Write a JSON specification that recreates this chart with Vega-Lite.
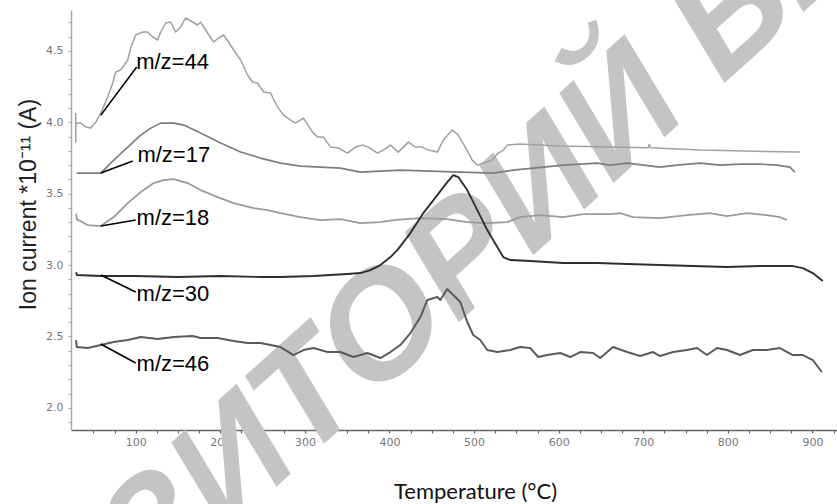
{
  "$schema": "https://vega.github.io/schema/vega-lite/v6.json",
  "width": 766,
  "height": 420,
  "autosize": "none",
  "padding": {"left": 71, "top": 10, "right": 0, "bottom": 74},
  "background": "white",
  "config": {"view": {"stroke": null}, "axis": {"grid": false}},
  "resolve": {"axis": {"x": "independent", "y": "independent"}},
  "datasets": {
    "series": [
      {"s":"44","T":29.0,"v":4.064},{"s":"44","T":29.1,"v":3.861},{"s":"44","T":29.2,"v":3.994},{"s":"44","T":35.1,"v":3.994},{"s":"44","T":41.0,"v":3.966},{"s":"44","T":46.9,"v":3.959},{"s":"44","T":52.8,"v":4.001},{"s":"44","T":58.7,"v":4.064},{"s":"44","T":66.9,"v":4.176},{"s":"44","T":72.8,"v":4.275},{"s":"44","T":76.4,"v":4.352},{"s":"44","T":82.3,"v":4.366},{"s":"44","T":90.6,"v":4.436},{"s":"44","T":94.1,"v":4.52},{"s":"44","T":100,"v":4.611},{"s":"44","T":108.3,"v":4.632},{"s":"44","T":114.2,"v":4.632},{"s":"44","T":120.1,"v":4.597},{"s":"44","T":126,"v":4.576},{"s":"44","T":129.5,"v":4.632},{"s":"44","T":135.4,"v":4.695},{"s":"44","T":141.3,"v":4.702},{"s":"44","T":147.2,"v":4.632},{"s":"44","T":153.1,"v":4.667},{"s":"44","T":159,"v":4.73},{"s":"44","T":167.3,"v":4.702},{"s":"44","T":173.2,"v":4.681},{"s":"44","T":176.7,"v":4.702},{"s":"44","T":185,"v":4.625},{"s":"44","T":192.1,"v":4.562},{"s":"44","T":198,"v":4.59},{"s":"44","T":203.9,"v":4.611},{"s":"44","T":209.8,"v":4.562},{"s":"44","T":215.7,"v":4.506},{"s":"44","T":224,"v":4.436},{"s":"44","T":232.2,"v":4.331},{"s":"44","T":238.1,"v":4.282},{"s":"44","T":244,"v":4.275},{"s":"44","T":251.1,"v":4.212},{"s":"44","T":259.4,"v":4.205},{"s":"44","T":267.6,"v":4.106},{"s":"44","T":274.7,"v":4.05},{"s":"44","T":283,"v":4.015},{"s":"44","T":288.9,"v":3.994},{"s":"44","T":298.3,"v":4.029},{"s":"44","T":309,"v":3.931},{"s":"44","T":314.9,"v":3.896},{"s":"44","T":321.9,"v":3.896},{"s":"44","T":330.2,"v":3.826},{"s":"44","T":339.7,"v":3.819},{"s":"44","T":350.3,"v":3.784},{"s":"44","T":359.7,"v":3.826},{"s":"44","T":368,"v":3.84},{"s":"44","T":375,"v":3.826},{"s":"44","T":385.7,"v":3.784},{"s":"44","T":392.8,"v":3.805},{"s":"44","T":401.1,"v":3.84},{"s":"44","T":410.4,"v":3.791},{"s":"44","T":422.3,"v":3.861},{"s":"44","T":430.6,"v":3.826},{"s":"44","T":438.8,"v":3.826},{"s":"44","T":445.9,"v":3.805},{"s":"44","T":456.5,"v":3.791},{"s":"44","T":463.6,"v":3.875},{"s":"44","T":474.2,"v":3.945},{"s":"44","T":481.3,"v":3.91},{"s":"44","T":489.6,"v":3.826},{"s":"44","T":497.8,"v":3.735},{"s":"44","T":503.8,"v":3.7},{"s":"44","T":510.8,"v":3.714},{"s":"44","T":521.5,"v":3.735},{"s":"44","T":528.6,"v":3.784},{"s":"44","T":534.5,"v":3.805},{"s":"44","T":539.2,"v":3.84},{"s":"44","T":554.5,"v":3.847},{"s":"44","T":601.8,"v":3.833},{"s":"44","T":660.8,"v":3.826},{"s":"44","T":706,"v":3.822},{"s":"44","T":707,"v":3.845},{"s":"44","T":708.5,"v":3.822},{"s":"44","T":767,"v":3.805},{"s":"44","T":820,"v":3.798},{"s":"44","T":885.1,"v":3.791},
      {"s":"17","T":30.3,"v":3.644},{"s":"17","T":58.7,"v":3.644},{"s":"17","T":74,"v":3.735},{"s":"17","T":90.6,"v":3.826},{"s":"17","T":105.9,"v":3.91},{"s":"17","T":117.7,"v":3.959},{"s":"17","T":129.5,"v":3.994},{"s":"17","T":144.9,"v":3.994},{"s":"17","T":156.7,"v":3.98},{"s":"17","T":176.7,"v":3.924},{"s":"17","T":200.4,"v":3.854},{"s":"17","T":224,"v":3.791},{"s":"17","T":247.6,"v":3.749},{"s":"17","T":271.2,"v":3.714},{"s":"17","T":294.8,"v":3.693},{"s":"17","T":318.4,"v":3.686},{"s":"17","T":342,"v":3.679},{"s":"17","T":365.6,"v":3.651},{"s":"17","T":389.2,"v":3.658},{"s":"17","T":412.8,"v":3.665},{"s":"17","T":448.3,"v":3.658},{"s":"17","T":483.7,"v":3.651},{"s":"17","T":522.6,"v":3.644},{"s":"17","T":546.3,"v":3.665},{"s":"17","T":569.9,"v":3.679},{"s":"17","T":605.3,"v":3.7},{"s":"17","T":645.4,"v":3.714},{"s":"17","T":660.8,"v":3.7},{"s":"17","T":680.9,"v":3.714},{"s":"17","T":719.8,"v":3.686},{"s":"17","T":739.9,"v":3.7},{"s":"17","T":767,"v":3.714},{"s":"17","T":790.7,"v":3.7},{"s":"17","T":814.3,"v":3.707},{"s":"17","T":837.9,"v":3.707},{"s":"17","T":857.9,"v":3.7},{"s":"17","T":873.3,"v":3.686},{"s":"17","T":879.2,"v":3.651},
      {"s":"18","T":29.5,"v":3.36},{"s":"18","T":30.5,"v":3.32},{"s":"18","T":43.3,"v":3.28},{"s":"18","T":58.7,"v":3.273},{"s":"18","T":74,"v":3.336},{"s":"18","T":90.6,"v":3.434},{"s":"18","T":105.9,"v":3.511},{"s":"18","T":121.3,"v":3.574},{"s":"18","T":133.1,"v":3.595},{"s":"18","T":144.9,"v":3.602},{"s":"18","T":161.4,"v":3.574},{"s":"18","T":176.7,"v":3.525},{"s":"18","T":196.8,"v":3.476},{"s":"18","T":215.7,"v":3.434},{"s":"18","T":239.3,"v":3.399},{"s":"18","T":255.8,"v":3.385},{"s":"18","T":271.2,"v":3.364},{"s":"18","T":294.8,"v":3.336},{"s":"18","T":318.4,"v":3.315},{"s":"18","T":342,"v":3.322},{"s":"18","T":365.6,"v":3.294},{"s":"18","T":389.2,"v":3.301},{"s":"18","T":404.6,"v":3.315},{"s":"18","T":436.5,"v":3.329},{"s":"18","T":468.3,"v":3.322},{"s":"18","T":491.9,"v":3.301},{"s":"18","T":515.6,"v":3.294},{"s":"18","T":539.2,"v":3.301},{"s":"18","T":554.5,"v":3.336},{"s":"18","T":578.1,"v":3.35},{"s":"18","T":605.3,"v":3.336},{"s":"18","T":629,"v":3.357},{"s":"18","T":660.8,"v":3.357},{"s":"18","T":672.6,"v":3.364},{"s":"18","T":687.9,"v":3.336},{"s":"18","T":719.8,"v":3.329},{"s":"18","T":751.7,"v":3.35},{"s":"18","T":778.8,"v":3.364},{"s":"18","T":798.9,"v":3.343},{"s":"18","T":822.5,"v":3.364},{"s":"18","T":846.1,"v":3.35},{"s":"18","T":861.5,"v":3.336},{"s":"18","T":869.7,"v":3.315},
      {"s":"30","T":29.5,"v":2.95},{"s":"30","T":30.5,"v":2.93},{"s":"30","T":58.7,"v":2.923},{"s":"30","T":100,"v":2.923},{"s":"30","T":150,"v":2.916},{"s":"30","T":200,"v":2.923},{"s":"30","T":250,"v":2.916},{"s":"30","T":271.2,"v":2.916},{"s":"30","T":310.1,"v":2.923},{"s":"30","T":350.3,"v":2.937},{"s":"30","T":365.6,"v":2.944},{"s":"30","T":377.4,"v":2.965},{"s":"30","T":389.2,"v":3.0},{"s":"30","T":401.1,"v":3.056},{"s":"30","T":409.3,"v":3.105},{"s":"30","T":424.7,"v":3.224},{"s":"30","T":440,"v":3.364},{"s":"30","T":456.5,"v":3.49},{"s":"30","T":468.3,"v":3.581},{"s":"30","T":475.4,"v":3.63},{"s":"30","T":481.3,"v":3.616},{"s":"30","T":491.9,"v":3.525},{"s":"30","T":503.8,"v":3.385},{"s":"30","T":515.6,"v":3.245},{"s":"30","T":527.4,"v":3.126},{"s":"30","T":534.5,"v":3.056},{"s":"30","T":542.7,"v":3.035},{"s":"30","T":566.3,"v":3.028},{"s":"30","T":605.3,"v":3.014},{"s":"30","T":645.4,"v":3.014},{"s":"30","T":680.9,"v":3.007},{"s":"30","T":719.8,"v":3.0},{"s":"30","T":758.8,"v":2.993},{"s":"30","T":798.9,"v":2.986},{"s":"30","T":837.9,"v":2.993},{"s":"30","T":876.8,"v":2.993},{"s":"30","T":888.6,"v":2.979},{"s":"30","T":900.4,"v":2.944},{"s":"30","T":912.2,"v":2.888},
      {"s":"46","T":29.5,"v":2.475},{"s":"46","T":30.3,"v":2.426},{"s":"46","T":43.3,"v":2.419},{"s":"46","T":58.7,"v":2.44},{"s":"46","T":74,"v":2.461},{"s":"46","T":90.6,"v":2.475},{"s":"46","T":105.9,"v":2.496},{"s":"46","T":126,"v":2.482},{"s":"46","T":144.9,"v":2.496},{"s":"46","T":167.3,"v":2.503},{"s":"46","T":176.7,"v":2.489},{"s":"46","T":196.8,"v":2.489},{"s":"46","T":215.7,"v":2.468},{"s":"46","T":232.2,"v":2.454},{"s":"46","T":247.6,"v":2.454},{"s":"46","T":271.2,"v":2.426},{"s":"46","T":286.5,"v":2.37},{"s":"46","T":298.3,"v":2.405},{"s":"46","T":310.1,"v":2.419},{"s":"46","T":326.7,"v":2.391},{"s":"46","T":342,"v":2.391},{"s":"46","T":357.4,"v":2.356},{"s":"46","T":373.9,"v":2.384},{"s":"46","T":389.2,"v":2.349},{"s":"46","T":401.1,"v":2.391},{"s":"46","T":412.8,"v":2.44},{"s":"46","T":424.7,"v":2.524},{"s":"46","T":436.5,"v":2.636},{"s":"46","T":444.7,"v":2.755},{"s":"46","T":456.5,"v":2.776},{"s":"46","T":460.1,"v":2.755},{"s":"46","T":468.3,"v":2.832},{"s":"46","T":475.4,"v":2.79},{"s":"46","T":483.7,"v":2.741},{"s":"46","T":491.9,"v":2.601},{"s":"46","T":499,"v":2.51},{"s":"46","T":507.3,"v":2.475},{"s":"46","T":515.6,"v":2.405},{"s":"46","T":527.4,"v":2.391},{"s":"46","T":542.7,"v":2.405},{"s":"46","T":554.5,"v":2.426},{"s":"46","T":566.3,"v":2.419},{"s":"46","T":575.8,"v":2.356},{"s":"46","T":586.4,"v":2.37},{"s":"46","T":601.8,"v":2.384},{"s":"46","T":613.6,"v":2.356},{"s":"46","T":625.4,"v":2.391},{"s":"46","T":640.7,"v":2.384},{"s":"46","T":649,"v":2.349},{"s":"46","T":664.3,"v":2.426},{"s":"46","T":680.9,"v":2.391},{"s":"46","T":696.2,"v":2.363},{"s":"46","T":711.6,"v":2.391},{"s":"46","T":719.8,"v":2.363},{"s":"46","T":735.2,"v":2.391},{"s":"46","T":751.7,"v":2.405},{"s":"46","T":763.5,"v":2.419},{"s":"46","T":775.3,"v":2.37},{"s":"46","T":787.1,"v":2.419},{"s":"46","T":798.9,"v":2.405},{"s":"46","T":814.3,"v":2.37},{"s":"46","T":829.6,"v":2.405},{"s":"46","T":846.1,"v":2.405},{"s":"46","T":861.5,"v":2.419},{"s":"46","T":876.8,"v":2.37},{"s":"46","T":888.6,"v":2.37},{"s":"46","T":900.4,"v":2.335},{"s":"46","T":911,"v":2.251}
    ],
    "leaders": [
      {"s":"44","T1":58.7,"v1":4.05,"T2":101.2,"v2":4.387},
      {"s":"17","T1":58.7,"v1":3.644,"T2":96.5,"v2":3.728},
      {"s":"18","T1":58.7,"v1":3.273,"T2":100,"v2":3.315},
      {"s":"30","T1":58.7,"v1":2.93,"T2":100,"v2":2.811},
      {"s":"46","T1":58.7,"v1":2.447,"T2":100,"v2":2.314}
    ],
    "labels": [
      {"label":"m/z=44","T":100.5,"v":4.42},
      {"label":"m/z=17","T":102,"v":3.77},
      {"label":"m/z=18","T":101,"v":3.33},
      {"label":"m/z=30","T":101,"v":2.8},
      {"label":"m/z=46","T":101,"v":2.31}
    ],
    "watermark": [
      {"w":"РЕПОЗИТОРИЙ БГУ","T":366,"v":2.405}
    ]
  },
  "layer": [
    {
      "data": {"name": "watermark"},
      "mark": {"type": "text", "angle": -42, "fontSize": 150, "fontWeight": "bold", "fontStyle": "italic", "font": "Liberation Sans", "color": "#c4c4c4", "align": "center", "baseline": "middle"},
      "encoding": {
        "x": {"field": "T", "type": "quantitative", "scale": {"domain": [23.5, 929], "nice": false, "zero": false},
          "axis": {"orient": "bottom", "title": "Temperature (°C)", "values": [100,200,300,400,500,600,700,800,900],
            "labelFont": "DejaVu Sans", "labelFontSize": 11, "labelColor": "#777", "labelPadding": 3,
            "domainColor": "#666", "domainWidth": 1.5, "tickColor": "#666", "tickSize": 3, "tickWidth": 1.2,
            "titleFont": "Lato", "titleFontSize": 22, "titleFontWeight": "normal", "titleColor": "#111",
            "titleX": 404, "titleY": 68, "titleBaseline": "alphabetic", "titleAnchor": "middle", "titleAlign": "center"}},
        "y": {"field": "v", "type": "quantitative", "scale": {"domain": [1.845, 4.786], "nice": false, "zero": false},
          "axis": {"orient": "left", "title": "Ion current *10⁻¹¹ (A)", "values": [2, 2.5, 3, 3.5, 4, 4.5], "format": ".1f",
            "labelFont": "DejaVu Sans", "labelFontSize": 11, "labelColor": "#777", "labelPadding": 5,
            "domainColor": "#aaa", "domainWidth": 1.5, "tickColor": "#aaa", "tickSize": 3, "tickWidth": 1.2,
            "titleFont": "Liberation Sans", "titleFontSize": 23, "titleFontWeight": "normal", "titleColor": "#222",
            "titleX": -43, "titleY": 194, "titleAngle": -90, "titleBaseline": "middle", "titleAlign": "center"}},
        "text": {"field": "w"}
      }
    },
    {
      "data": {"name": "series"},
      "mark": {"type": "line", "strokeJoin": "round"},
      "encoding": {
        "x": {"field": "T", "type": "quantitative",
          "axis": {"orient": "bottom", "title": null, "labels": false, "domain": false, "values": [50,75,125,150,175,225,250,275,325,350,375,425,450,475,525,550,575,625,650,675,725,750,775,825,850,875,925], "tickColor": "#666", "tickSize": 3, "tickWidth": 1.2}},
        "y": {"field": "v", "type": "quantitative",
          "axis": {"orient": "left", "title": null, "labels": false, "domain": false, "values": [1.9,2.1,2.2,2.3,2.4,2.6,2.7,2.8,2.9,3.1,3.2,3.3,3.4,3.6,3.7,3.8,3.9,4.1,4.2,4.3,4.4,4.6,4.7], "tickColor": "#aaa", "tickSize": 3, "tickWidth": 1.2}},
        "color": {"field": "s", "type": "nominal", "legend": null,
          "scale": {"domain": ["44","17","18","30","46"], "range": ["#a0a0a0","#7d7d7d","#9a9a9a","#2e2e2e","#5a5a5a"]}},
        "strokeWidth": {"field": "s", "type": "nominal", "legend": null,
          "scale": {"domain": ["44","17","18","30","46"], "range": [1.5, 2, 2, 2, 2]}}
      }
    },
    {
      "data": {"name": "leaders"},
      "mark": {"type": "rule", "color": "#000", "strokeWidth": 1.6},
      "encoding": {
        "x": {"field": "T1", "type": "quantitative", "axis": null},
        "y": {"field": "v1", "type": "quantitative", "axis": null},
        "x2": {"field": "T2"},
        "y2": {"field": "v2"}
      }
    },
    {
      "data": {"name": "labels"},
      "mark": {"type": "text", "align": "left", "baseline": "middle", "font": "Liberation Sans", "fontSize": 22, "color": "#000"},
      "encoding": {
        "x": {"field": "T", "type": "quantitative", "axis": null},
        "y": {"field": "v", "type": "quantitative", "axis": null},
        "text": {"field": "label"}
      }
    }
  ]
}
